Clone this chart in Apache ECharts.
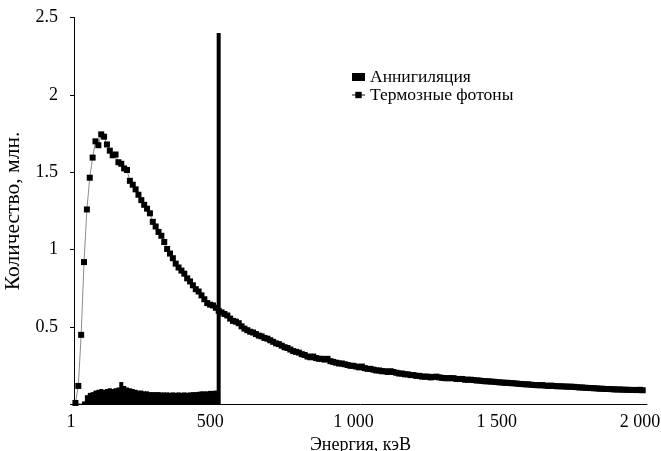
<!DOCTYPE html>
<html>
<head>
<meta charset="utf-8">
<script src="https://cdn.jsdelivr.net/npm/echarts@6/dist/echarts.min.js"></script>
<style>html,body{margin:0;padding:0;background:#fff}#c{width:661px;height:451px}</style>
</head>
<body>
<div id="c"></div>
<script>
// Bin centres: 10 keV bins, first centre at 5 keV
const binStart = 5;
const binWidth = 10;

// Annihilation counts (millions), bins 5..505 keV
const annihilation = [
  0.015, 0.005, 0.005, 0.02, 0.06, 0.075, 0.08, 0.09, 0.095, 0.1,
  0.095, 0.1, 0.105, 0.1, 0.105, 0.11, 0.145, 0.12, 0.11, 0.105,
  0.1, 0.095, 0.09, 0.09, 0.085, 0.085, 0.08, 0.08, 0.08, 0.08,
  0.078, 0.078, 0.078, 0.076, 0.078, 0.076, 0.078, 0.076, 0.078, 0.076,
  0.078, 0.08, 0.08, 0.082, 0.085, 0.085, 0.085, 0.088, 0.088, 0.09,
  2.40
];

// Bremsstrahlung photons (millions), bins 5..1985 keV
const thermal = [
  0.01, 0.12, 0.45, 0.92, 1.26, 1.465, 1.595, 1.70, 1.675, 1.745,
  1.73, 1.68, 1.64, 1.61, 1.615, 1.565, 1.555, 1.525, 1.515, 1.445,
  1.42, 1.39, 1.355, 1.32, 1.29, 1.265, 1.235, 1.18, 1.15, 1.115,
  1.09, 1.05, 1.005, 0.975, 0.945, 0.91, 0.885, 0.865, 0.845, 0.815,
  0.795, 0.77, 0.745, 0.73, 0.705, 0.68, 0.655, 0.645, 0.64, 0.625,
  0.605, 0.595, 0.585, 0.575, 0.555, 0.54, 0.535, 0.525, 0.505, 0.49,
  0.48, 0.47, 0.465, 0.455, 0.445, 0.44, 0.43, 0.425, 0.415, 0.405,
  0.395, 0.39, 0.38, 0.37, 0.365, 0.355, 0.345, 0.34, 0.335, 0.325,
  0.32, 0.31, 0.305, 0.31, 0.30, 0.295, 0.295, 0.29, 0.295, 0.28,
  0.275, 0.27, 0.265, 0.265, 0.26, 0.255, 0.25, 0.25, 0.245, 0.24,
  0.245, 0.235, 0.23, 0.23, 0.225, 0.22, 0.22, 0.215, 0.215, 0.21,
  0.215, 0.21, 0.205, 0.2, 0.2, 0.195, 0.195, 0.19, 0.19, 0.185,
  0.185, 0.18, 0.18, 0.18, 0.175, 0.178, 0.18, 0.175, 0.172, 0.17,
  0.17, 0.17, 0.17, 0.165, 0.165, 0.165, 0.16, 0.16, 0.16, 0.158,
  0.155, 0.155, 0.152, 0.15, 0.15, 0.148, 0.147, 0.145, 0.143, 0.142,
  0.14, 0.14, 0.138, 0.137, 0.135, 0.133, 0.132, 0.13, 0.13, 0.128,
  0.126, 0.125, 0.124, 0.125, 0.122, 0.12, 0.122, 0.12, 0.118, 0.118,
  0.117, 0.116, 0.115, 0.115, 0.114, 0.112, 0.11, 0.11, 0.108, 0.107,
  0.106, 0.105, 0.104, 0.102, 0.102, 0.1, 0.1, 0.099, 0.098, 0.097,
  0.097, 0.096, 0.095, 0.095, 0.094, 0.094, 0.093, 0.095, 0.092
];

const xTickValues = [0, 500, 1000, 1500, 2000];
const xTickLabels = ['1', '500', '1 000', '1 500', '2 000'];
const yTickValues = [0, 0.5, 1, 1.5, 2, 2.5];
const yTickLabels = ['', '0.5', '1', '1.5', '2', '2.5'];

const seriesNames = ['Аннигиляция', 'Термозные фотоны'];
const xTitle = 'Энергия, кэВ';
const yTitle = 'Количество, млн.';

const annData = annihilation.map((v, i) => [binStart + i * binWidth, v]);
const thermData = thermal.map((v, i) => [binStart + i * binWidth, v]);

const font = '"Liberation Serif", "Times New Roman", serif';
const chart = echarts.init(document.getElementById('c'), null, {renderer: 'canvas'});
chart.setOption({
  animation: false,
  backgroundColor: '#fff',
  grid: {left: 74, right: 14, top: 17.5, bottom: 46.5, containLabel: false, outerBoundsMode: 'none'},
  legend: {
    orient: 'vertical',
    left: 346, top: 63,
    itemGap: 0,
    itemWidth: 13, itemHeight: 8,
    textStyle: {fontFamily: font, fontSize: 17.5, color: '#000'},
    data: [
      {name: seriesNames[0], icon: 'rect', itemStyle: {color: '#000'}},
      {name: seriesNames[1]}
    ]
  },
  xAxis: {
    type: 'value', min: 0, max: 2000, interval: 500,
    name: xTitle, nameLocation: 'middle', nameGap: 26,
    nameTextStyle: {fontFamily: font, fontSize: 18, color: '#000'},
    axisLine: {show: true, lineStyle: {color: '#000', width: 1}},
    axisTick: {show: false},
    splitLine: {show: false},
    axisLabel: {
      margin: 9, fontFamily: font, fontSize: 18, color: '#000',
      formatter: v => {
        const k = xTickValues.indexOf(v);
        if (k < 0) return '';
        return (k === 0 ? '{a|' : '{b|') + xTickLabels[k] + '}';
      },
      rich: {
        a: {fontFamily: font, fontSize: 18, color: '#000', padding: [0, 6, 0, 0]},
        b: {fontFamily: font, fontSize: 18, color: '#000', padding: [0, 14, 0, 0]}
      }
    }
  },
  yAxis: {
    type: 'value', min: 0, max: 2.5, interval: 0.5,
    name: yTitle, nameLocation: 'middle', nameGap: 44, nameRotate: 90,
    nameTextStyle: {fontFamily: font, fontSize: 21.5, color: '#000'},
    axisLine: {show: true, lineStyle: {color: '#000', width: 1}},
    axisTick: {show: true, inside: false, length: 4, lineStyle: {color: '#000'}},
    splitLine: {show: false},
    axisLabel: {
      margin: 16, fontFamily: font, fontSize: 18, color: '#000',
      formatter: v => { const k = yTickValues.findIndex(t => Math.abs(t - v) < 1e-9); return k >= 0 ? yTickLabels[k] : ''; }
    }
  },
  series: [
    {
      name: seriesNames[0], type: 'bar', data: annData,
      barWidth: 4, itemStyle: {color: '#000'}, z: 2
    },
    {
      name: seriesNames[1], type: 'line', data: thermData,
      symbol: 'rect', symbolSize: 6,
      itemStyle: {color: '#000'},
      lineStyle: {color: '#8c8c8c', width: 1},
      z: 3
    }
  ]
});
</script>
</body>
</html>
